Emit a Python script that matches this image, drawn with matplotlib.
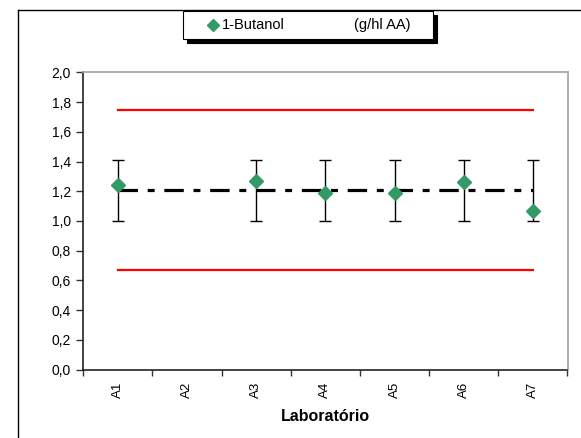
import numpy as np
import matplotlib
matplotlib.use("Agg")
import matplotlib.pyplot as plt
from matplotlib.patches import Rectangle
from matplotlib.lines import Line2D

plt.rcParams['font.family'] = ['Liberation Sans', 'DejaVu Sans']
plt.rcParams['lines.scale_dashes'] = False

# dados
labs = ['A1', 'A2', 'A3', 'A4', 'A5', 'A6', 'A7']
butanol = [1.24, np.nan, 1.27, 1.19, 1.19, 1.26, 1.065]
err_low = [1.00, np.nan, 1.00, 1.00, 1.00, 1.00, 1.00]
err_high = [1.41, np.nan, 1.41, 1.41, 1.41, 1.41, 1.41]
valor_ref = 1.21
limite_sup = 1.745
limite_inf = 0.67

W, H = 581, 438
fig = plt.figure(figsize=(W / 100, H / 100), dpi=100)
ax = fig.add_axes([83.3 / W, 1 - 369.5 / H, (567.5 - 83.3) / W, (369.5 - 72.5) / H])

x = np.arange(1, len(labs) + 1)
lo = np.array(err_low)
hi = np.array(err_high)
mid = (lo + hi) / 2
ok = ~np.isnan(mid)

# limites e valor de referencia
ax.plot([x[0], x[-1]], [limite_sup, limite_sup], color='#ff0000', lw=1.6, zorder=2)
ax.plot([x[0], x[-1]], [limite_inf, limite_inf], color='#ff0000', lw=1.6, zorder=2)
ax.plot([x[0], x[-1]], [valor_ref, valor_ref], color='black', lw=2.3,
        dashes=(14, 7, 5, 7), zorder=3)

ax.errorbar(x[ok], mid[ok], yerr=(hi[ok] - lo[ok]) / 2, fmt='none', ecolor='black',
            elinewidth=1.0, capsize=4, capthick=1.0, zorder=4)
ax.plot(x, butanol, linestyle='none', marker='D', ms=7, color='#339966',
        markeredgecolor='#339966', zorder=5)

ax.set_xlim(0.5, len(labs) + 0.5)
ax.set_ylim(0, 2.0)
ax.set_yticks(np.arange(0, 2.01, 0.2))
ax.set_yticklabels([f"{v:.1f}".replace('.', ',') for v in np.arange(0, 2.01, 0.2)], fontsize=10)
ax.set_xticks(np.arange(0.5, len(labs) + 1, 1.0))
ax.set_xticklabels([])
ax.set_xticks(x, minor=True)
ax.set_xticklabels(labs, minor=True, rotation=90, fontsize=9.5)
ax.tick_params(axis='x', which='major', direction='out', length=4, width=1, color='#333333')
ax.tick_params(axis='x', which='minor', length=0, pad=9)
ax.tick_params(axis='y', direction='out', length=5, width=1, color='#333333', pad=4)
ax.set_xlabel('Laboratório', fontsize=11.5, fontweight='bold', labelpad=8)

for s in ['left', 'bottom']:
    ax.spines[s].set_color('#222222')
    ax.spines[s].set_linewidth(1.2)
for s in ['top', 'right']:
    ax.spines[s].set_color('#a8a8a8')
    ax.spines[s].set_linewidth(1.3)

# moldura externa
fig.add_artist(Line2D([17.5 / W, 1.0], [1 - 9.7 / H, 1 - 9.7 / H], color='black', lw=1.0))
fig.add_artist(Line2D([17.5 / W, 17.5 / W], [0.0, 1 - 9.7 / H], color='black', lw=1.0))

# legenda
bx, by, bw, bh = 183 / W, 1 - 39 / H, 250 / W, 28 / H
fig.add_artist(Rectangle((bx + 3.5 / W, by - 3.5 / H), bw, bh, facecolor='black',
                         edgecolor='black', lw=0.8))
fig.add_artist(Rectangle((bx, by), bw, bh, facecolor='white', edgecolor='black', lw=0.8))
fig.add_artist(Line2D([213 / W], [1 - 25 / H], marker='D', ms=6, color='#339966',
                      linestyle='none'))
fig.text(222 / W, 1 - 25 / H, '1-Butanol', fontsize=10.5, va='center', ha='left')
fig.text(354 / W, 1 - 25 / H, '(g/hl AA)', fontsize=10.5, va='center', ha='left')

fig.savefig('out.png', dpi=100)
